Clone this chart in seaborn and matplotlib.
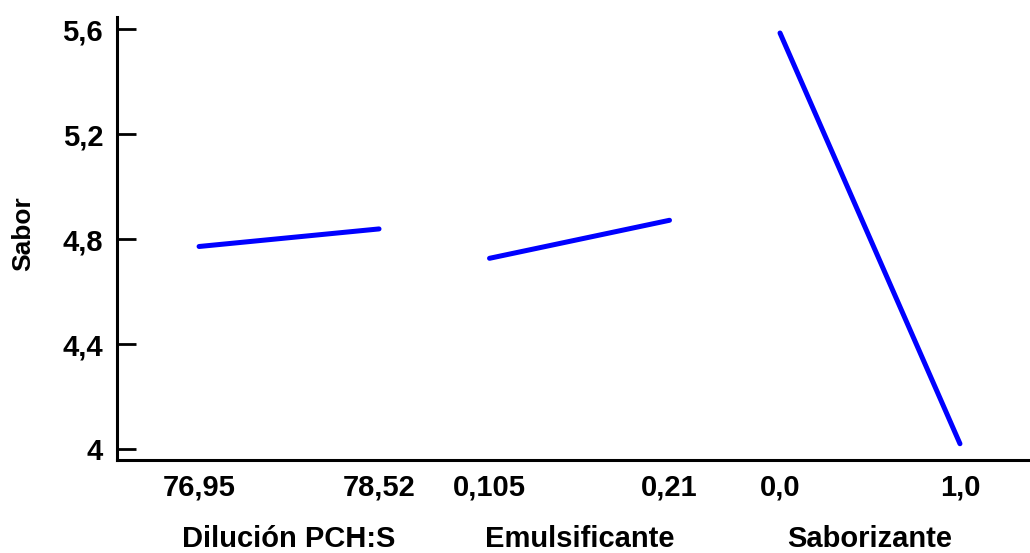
import matplotlib
matplotlib.use("Agg")
import matplotlib.pyplot as plt
import matplotlib.transforms as mtransforms
import numpy as np
import pandas as pd
import seaborn as sns

# Main effects of each factor on "Sabor"
factors = ["Dilución PCH:S", "Emulsificante", "Saborizante"]
low_labels = ["76,95", "0,105", "0,0"]
high_labels = ["78,52", "0,21", "1,0"]
sabor_low = [4.772, 4.727, 5.586]
sabor_high = [4.839, 4.872, 4.020]

y_ticks = [4.0, 4.4, 4.8, 5.2, 5.6]
y_tick_labels = ["4", "4,4", "4,8", "5,2", "5,6"]

sns.set_theme(style="white")
plt.rcParams["font.family"] = ["Liberation Sans", "DejaVu Sans"]
plt.rcParams["font.weight"] = "bold"

# Each factor occupies one unit along x, separated by a fixed gap
span, gap = 1.0, 0.614
starts = [i * (span + gap) for i in range(len(factors))]

rows = []
for name, x0, lo, hi in zip(factors, starts, sabor_low, sabor_high):
    rows.append({"Factor": name, "pos": x0, "Sabor": lo})
    rows.append({"Factor": name, "pos": x0 + span, "Sabor": hi})
df = pd.DataFrame(rows)

fig = plt.figure(figsize=(10.30, 5.53), dpi=100)
ax = fig.add_axes([117 / 1030, 93 / 553, 911 / 1030, 443 / 553])

sns.lineplot(data=df, x="pos", y="Sabor", units="Factor", estimator=None,
             sort=False, color="#0000FF", linewidth=3.6, legend=False, ax=ax)

ax.set_xlim(starts[0] - 0.456, starts[-1] + span + 0.378)
ax.set_ylim(3.958, 5.647)

fs = 21
ax.set_yticks(y_ticks)
ax.set_yticklabels(y_tick_labels, fontsize=fs, color="black", fontweight="bold")
xt = []
xl = []
for x0, lo, hi in zip(starts, low_labels, high_labels):
    xt += [x0, x0 + span]
    xl += [lo, hi]
ax.set_xticks(xt)
ax.set_xticklabels(xl, fontsize=fs, color="black", fontweight="bold")

ax.tick_params(axis="y", direction="in", length=14, width=2.0, color="black",
               pad=10, left=True)
ax.tick_params(axis="x", length=0, pad=10)

for side in ("top", "right"):
    ax.spines[side].set_visible(False)
for side in ("left", "bottom"):
    ax.spines[side].set_color("black")
    ax.spines[side].set_linewidth(2.2)

# Factor names under each pair of level labels
trans = mtransforms.blended_transform_factory(ax.transData, ax.transAxes)
for name, x0 in zip(factors, starts):
    ax.text(x0 + span / 2, -0.197, name, transform=trans, ha="center",
            va="baseline", fontsize=fs, color="black", fontweight="bold")

ax.set_xlabel("")
ax.set_ylabel("Sabor", fontsize=19, color="black", va="center", fontweight="bold")
ax.yaxis.set_label_coords(-0.103, 0.51)

fig.savefig("out.png", dpi=100, facecolor="white")
